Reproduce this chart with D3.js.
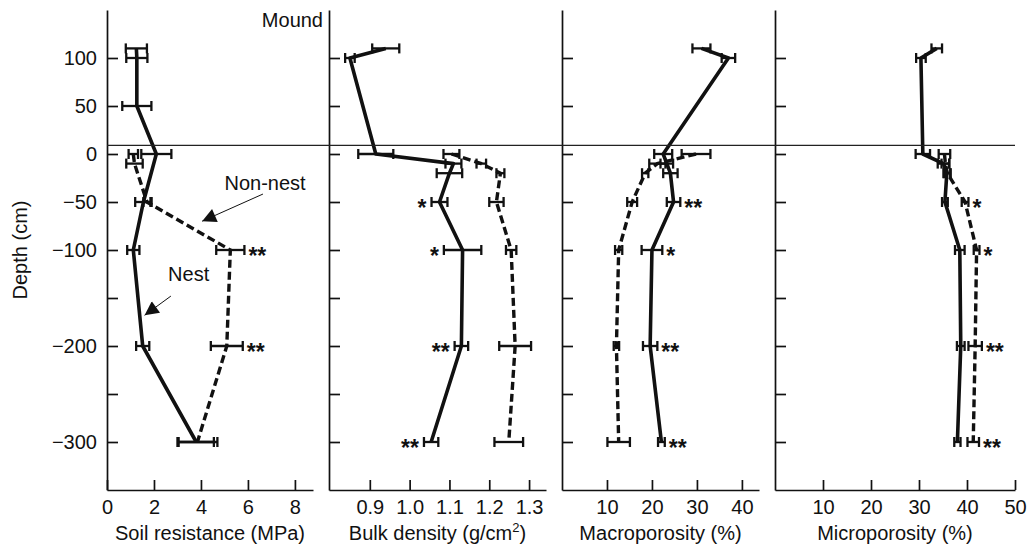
<!DOCTYPE html>
<html>
<head>
<meta charset="utf-8">
<script src="https://cdn.jsdelivr.net/npm/d3@7"></script>
<style>
body{margin:0;background:#fff;}
svg{font-family:"Liberation Sans",Arial,Helvetica,sans-serif;}
</style>
</head>
<body>
<svg></svg>
<script>
// depths in cm (mound samples are above 0)
var nestDepthsResist = [110, 100, 50, 0, -50, -100, -200, -300]
var nonDepthsResist = [0, -10, -50, -100, -200, -300]
var nestDepths = [110, 100, 0, -10, -20, -50, -100, -200, -300]
var nonDepths = [0, -10, -20, -50, -100, -200, -300]

// soil resistance (MPa)
var resistNest = [1.25, 1.27, 1.27, 2.1, 1.55, 1.12, 1.52, 3.8]
var resistNestErr = [0.45, 0.45, 0.62, 0.64, 0.35, 0.26, 0.28, 0.75]
var resistNon = [1.12, 1.17, 1.7, 5.25, 5.1, 3.85]
var resistNonErr = [0.2, 0.35, 0.15, 0.6, 0.68, 0.85]
var resistStars = ["", "", "", "**", "**", ""]

// bulk density (g/cm2)
var densNest = [0.94, 0.85, 0.915, 1.11, 1.1, 1.075, 1.133, 1.13, 1.054]
var densNestErr = [0.034, 0.012, 0.044, 0.02, 0.032, 0.02, 0.047, 0.017, 0.018]
var densNon = [1.105, 1.18, 1.228, 1.218, 1.255, 1.265, 1.249]
var densNonErr = [0.02, 0.012, 0.01, 0.018, 0.013, 0.04, 0.036]
var densStars = ["", "", "", "*", "*", "**", "**"]

// macroporosity (%)
var macroNest = [31, 37, 22.5, 23.3, 24.1, 24.8, 20, 19.6, 22.1]
var macroNestErr = [2.0, 1.5, 2.0, 1.4, 1.6, 1.5, 2.3, 1.6, 0.75]
var macroNon = [29.8, 21.2, 18.5, 15.6, 12.6, 12.1, 12.6]
var macroNonErr = [3.2, 1.8, 0.7, 1.1, 0.8, 0.6, 2.5]
var macroStars = ["", "", "", "**", "*", "**", "**"]

// microporosity (%)
var microNest = [33.7, 30.4, 30.8, 35.1, 35.8, 35.4, 38.5, 38.7, 38.0]
var microNestErr = [1.1, 1.0, 1.5, 1.2, 0.7, 0.6, 1.0, 0.8, 0.65]
var microNon = [35.3, 35.5, 35.9, 39.6, 42.0, 41.7, 41.3]
var microNonErr = [1.2, 0.8, 0.7, 0.7, 0.6, 1.4, 1.2]
var microStars = ["", "", "", "*", "*", "**", "**"]

var depthTicks = [100, 50, 0, -50, -100, -150, -200, -250, -300]
var depthLabels = [100, 50, 0, -50, -100, -200, -300]
var surfaceDepth = 9

var screen = {width: 1029, height: 548}
var svg = d3.select("svg")
            .attr("width", screen.width)
            .attr("height", screen.height)

var yScale = d3.scaleLinear()
               .domain([-350, 150])
               .range([490, 10])

var panels = [
  {range: [107, 313], domain: [0, 8.77], ticks: [0, 2, 4, 6, 8], fmt: "d", labels: true,
   nestDepths: nestDepthsResist, nest: resistNest, nestErr: resistNestErr,
   nonDepths: nonDepthsResist, non: resistNon, nonErr: resistNonErr, stars: resistStars, side: "right",
   title: "Soil resistance (MPa)"},
  {range: [329, 546], domain: [0.7975, 1.3425], ticks: [0.9, 1.0, 1.1, 1.2, 1.3], fmt: ".1f",
   nestDepths: nestDepths, nest: densNest, nestErr: densNestErr,
   nonDepths: nonDepths, non: densNon, nonErr: densNonErr, stars: densStars, side: "left",
   title: "Bulk density (g/cm", sup: "2", after: ")"},
  {range: [562, 759], domain: [0, 43.8], ticks: [10, 20, 30, 40], fmt: "d",
   nestDepths: nestDepths, nest: macroNest, nestErr: macroNestErr,
   nonDepths: nonDepths, non: macroNon, nonErr: macroNonErr, stars: macroStars, side: "right",
   title: "Macroporosity (%)"},
  {range: [775, 1015], domain: [0, 50], ticks: [10, 20, 30, 40, 50], fmt: "d",
   nestDepths: nestDepths, nest: microNest, nestErr: microNestErr,
   nonDepths: nonDepths, non: microNon, nonErr: microNonErr, stars: microStars, side: "right",
   title: "Microporosity (%)"}
]

var zip = function(depths, vals, errs)
{
  return depths.map(function(d, i){ return {depth: d, v: vals[i], e: errs[i]} })
}

var drawPanel = function(p)
{
  var xScale = d3.scaleLinear().domain(p.domain).range(p.range)
  var g = svg.append("g")

  var yAxis = d3.axisLeft(yScale)
                .tickValues(depthTicks)
                .tickSizeInner(-11)
                .tickSizeOuter(0)
                .tickPadding(10)
                .tickFormat(function(d){
                  return p.labels && depthLabels.indexOf(d) >= 0 ? d3.format("d")(d) : ""
                })
  g.append("g").classed("yAxis", true)
   .attr("transform", "translate(" + p.range[0] + ",0)")
   .call(yAxis)

  var xAxis = d3.axisBottom(xScale)
                .tickValues(p.ticks)
                .tickSizeInner(-10)
                .tickSizeOuter(0)
                .tickPadding(10)
                .tickFormat(d3.format(p.fmt))
  g.append("g").classed("xAxis", true)
   .attr("transform", "translate(0," + yScale(-350) + ")")
   .call(xAxis)

  g.selectAll(".domain, .tick line").attr("stroke", "#111").attr("stroke-width", 1.7)
  g.selectAll(".tick text")
   .attr("font-size", 20)
   .attr("font-family", "Liberation Sans, Arial, sans-serif")
   .attr("fill", "#111")

  var title = g.append("text")
               .attr("x", (p.range[0] + p.range[1]) / 2)
               .attr("y", 540)
               .attr("text-anchor", "middle")
               .attr("font-size", 20)
               .attr("fill", "#111")
               .text(p.title)
  if (p.sup) {
    title.append("tspan").attr("font-size", 13).attr("dy", -8).text(p.sup)
    title.append("tspan").attr("dy", 8).text(p.after)
  }

  var nest = zip(p.nestDepths, p.nest, p.nestErr)
  var non = zip(p.nonDepths, p.non, p.nonErr)

  var line = d3.line()
               .x(function(d){ return xScale(d.v) })
               .y(function(d){ return yScale(d.depth) })

  // error bars
  var bars = g.append("g").attr("stroke", "#111").attr("stroke-width", 2.3)
  nest.concat(non).forEach(function(d){
    var y = yScale(d.depth)
    bars.append("line")
        .attr("x1", xScale(d.v - d.e)).attr("x2", xScale(d.v + d.e))
        .attr("y1", y).attr("y2", y)
    ;[d.v - d.e, d.v + d.e].forEach(function(c){
      bars.append("line")
          .attr("x1", xScale(c)).attr("x2", xScale(c))
          .attr("y1", y - 5).attr("y2", y + 5)
    })
  })

  g.append("path")
   .datum(non)
   .attr("d", line)
   .attr("fill", "none")
   .attr("stroke", "#111")
   .attr("stroke-width", 3.4)
   .attr("stroke-dasharray", "8,4")

  g.append("path")
   .datum(nest)
   .attr("d", line)
   .attr("fill", "none")
   .attr("stroke", "#111")
   .attr("stroke-width", 3.6)
   .attr("stroke-linejoin", "round")

  // significance marks
  non.forEach(function(d, i){
    var s = p.stars[i]
    if (!s) return
    var n = nest.filter(function(m){ return m.depth == d.depth })[0]
    var x
    if (p.side == "right") {
      x = xScale(Math.max(d.v + d.e, n.v + n.e)) + 4
    } else {
      x = xScale(Math.min(d.v - d.e, n.v - n.e)) - 5
    }
    g.append("text")
     .attr("x", x)
     .attr("y", yScale(d.depth) + 14)
     .attr("text-anchor", p.side == "right" ? "start" : "end")
     .attr("font-size", 23)
     .attr("font-weight", "bold")
     .attr("fill", "#111")
     .text(s)
  })

  return xScale
}

var scales = panels.map(drawPanel)

// soil surface line
svg.append("line")
   .attr("x1", scales[0](0)).attr("x2", scales[3](50))
   .attr("y1", yScale(surfaceDepth)).attr("y2", yScale(surfaceDepth))
   .attr("stroke", "#222")
   .attr("stroke-width", 1.2)

svg.append("text")
   .attr("x", panels[1].range[0] - 6)
   .attr("y", yScale(132))
   .attr("text-anchor", "end")
   .attr("font-size", 20)
   .attr("fill", "#111")
   .text("Mound")

svg.append("text")
   .attr("transform", "translate(27," + yScale(-100) + ") rotate(-90)")
   .attr("text-anchor", "middle")
   .attr("font-size", 20)
   .attr("fill", "#111")
   .text("Depth (cm)")

// labels with arrows in panel 1
var x1 = scales[0]
var defs = svg.append("defs")
defs.append("marker")
    .attr("id", "head")
    .attr("viewBox", "0 0 10 10")
    .attr("refX", 10).attr("refY", 5)
    .attr("markerWidth", 17).attr("markerHeight", 14)
    .attr("markerUnits", "userSpaceOnUse")
    .attr("orient", "auto")
  .append("path")
    .attr("d", "M0,0 L10,5 L0,10 z")
    .attr("fill", "#111")

var notes = [
  {text: "Non-nest", x: 5.0, depth: -37.5, from: [6.64, -41.7], to: [4.05, -70]},
  {text: "Nest", x: 2.6, depth: -132, from: [2.72, -148], to: [1.6, -168]}
]
notes.forEach(function(n){
  svg.append("text")
     .attr("x", x1(n.x))
     .attr("y", yScale(n.depth))
     .attr("font-size", 20)
     .attr("fill", "#111")
     .text(n.text)
  svg.append("line")
     .attr("x1", x1(n.from[0])).attr("y1", yScale(n.from[1]))
     .attr("x2", x1(n.to[0])).attr("y2", yScale(n.to[1]))
     .attr("stroke", "#111")
     .attr("stroke-width", 1)
     .attr("marker-end", "url(#head)")
})
</script>
</body>
</html>
